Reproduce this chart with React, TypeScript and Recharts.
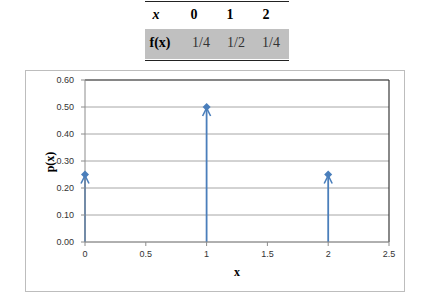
import React from 'react';
import { ComposedChart, Scatter, XAxis, YAxis, CartesianGrid, ReferenceLine } from 'recharts';

const xValues = [0, 1, 2];
const probLabels = ['1/4', '1/2', '1/4'];
const probValues = [0.25, 0.5, 0.25];
const yTicks = [0, 0.1, 0.2, 0.3, 0.4, 0.5, 0.6];
const xTicks = [0, 0.5, 1, 1.5, 2, 2.5];

const points = xValues.map((x, i) => ({ x, y: probValues[i] }));

const BLUE = '#4a7ebb';

const Marker = (props: any) => {
  const { cx, cy } = props;
  if (cx == null || cy == null) return null;
  const d = 4;
  return (
    <g>
      <polyline points={`${cx - 4},${cy + 9} ${cx},${cy + 1} ${cx + 4},${cy + 9}`} fill="none" stroke={BLUE} strokeWidth={1.6} />
      <polygon points={`${cx},${cy - d} ${cx + d},${cy} ${cx},${cy + d} ${cx - d},${cy}`} fill={BLUE} />
    </g>
  );
};

const serif = '"Liberation Serif", "Times New Roman", serif';
const sans = '"Liberation Sans", Arial, sans-serif';

export default function App() {
  const cellStyle: React.CSSProperties = { position: 'absolute', top: 0, fontSize: 14, fontFamily: serif, transform: 'translateX(-50%)' };
  return (
    <div style={{ position: 'absolute', left: 0, top: 0, width: 431, height: 304, background: '#fff', overflow: 'hidden' }}>
      {/* table */}
      <div style={{ position: 'absolute', left: 145, top: 1, width: 144, height: 58, borderTop: '1px solid #222', borderBottom: '1px solid #222' }}>
        <div style={{ position: 'absolute', left: 0, top: 27, width: 144, height: 30, background: '#c0c0c0' }} />
        <div style={{ ...cellStyle, top: 5, left: 11, fontStyle: 'italic', fontWeight: 'bold' }}>x</div>
        {xValues.map((x, i) => (
          <div key={'h' + i} style={{ ...cellStyle, top: 5, left: 49 + i * 36, fontWeight: 'bold' }}>{x}</div>
        ))}
        <div style={{ ...cellStyle, top: 33, left: 15, fontWeight: 'bold' }}>f(x)</div>
        {probLabels.map((p, i) => (
          <div key={'p' + i} style={{ ...cellStyle, top: 33, left: 56 + i * 35, color: '#333' }}>{p}</div>
        ))}
      </div>
      {/* chart frame */}
      <div style={{ position: 'absolute', left: 25, top: 70, width: 380, height: 222, border: '1px solid #bdbdbd', boxSizing: 'border-box' }} />
      <div style={{ position: 'absolute', left: 0, top: 0 }}>
        <ComposedChart width={431} height={304} data={points} margin={{ top: 80, right: 42, bottom: 22, left: 45 }}>
          <CartesianGrid horizontal vertical={false} stroke="#a6a6a6" />
          <XAxis
            type="number"
            dataKey="x"
            domain={[0, 2.5]}
            ticks={xTicks}
            height={40}
            tickSize={4}
            tickMargin={5}
            axisLine={{ stroke: '#8c8c8c' }}
            tickLine={{ stroke: '#8c8c8c' }}
            tick={{ fontSize: 9, fill: '#333', fontFamily: sans }}
            interval={0}
          />
          <YAxis
            type="number"
            dataKey="y"
            domain={[0, 0.6]}
            ticks={yTicks}
            width={40}
            tickSize={4}
            tickMargin={7}
            axisLine={{ stroke: '#8c8c8c' }}
            tickLine={{ stroke: '#8c8c8c' }}
            tick={{ fontSize: 9, fill: '#333', fontFamily: sans }}
            tickFormatter={(v: number) => v.toFixed(2)}
            interval={0}
          />
          <ReferenceLine y={0.6} stroke="#3a3a3a" strokeWidth={1.2} />
          <ReferenceLine x={2.5} stroke="#3a3a3a" strokeWidth={1.2} />
          {points.map((p, i) => (
            <ReferenceLine key={i} segment={[{ x: p.x, y: 0 }, { x: p.x, y: p.y }]} stroke={BLUE} strokeWidth={1.8} />
          ))}
          <Scatter data={points} shape={<Marker />} isAnimationActive={false} />
        </ComposedChart>
      </div>
      <div style={{ position: 'absolute', left: 237, top: 265, transform: 'translateX(-50%)', fontFamily: serif, fontWeight: 'bold', fontSize: 12 }}>x</div>
      <div style={{ position: 'absolute', left: 50, top: 162, transform: 'translate(-50%, -50%) rotate(-90deg)', fontFamily: serif, fontWeight: 'bold', fontSize: 12, whiteSpace: 'nowrap' }}>p(x)</div>
    </div>
  );
}
